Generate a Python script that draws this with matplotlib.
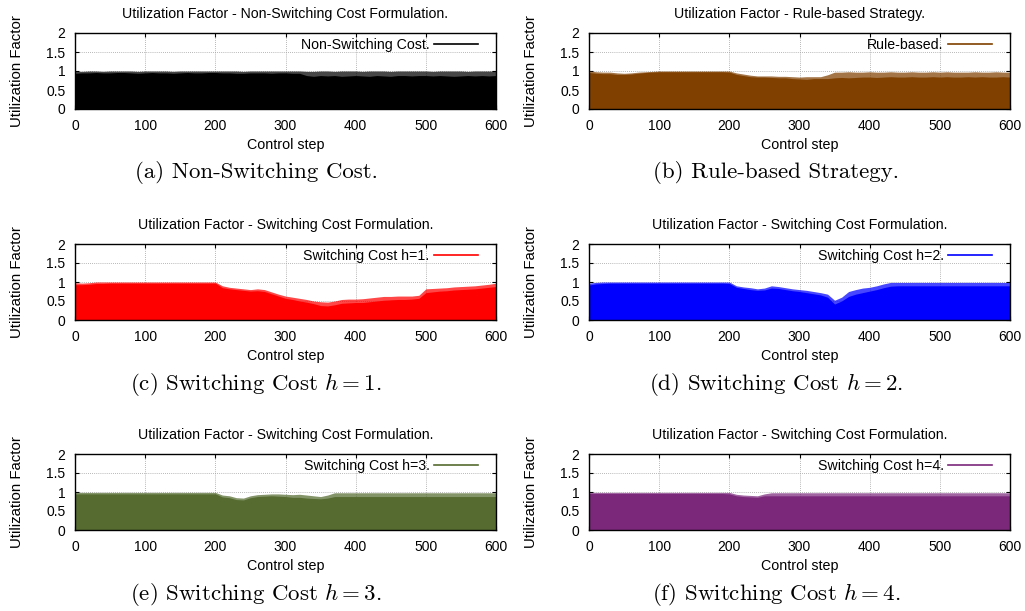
import numpy as np
import matplotlib
matplotlib.use('Agg')
from matplotlib import pyplot as plt
from matplotlib.lines import Line2D

steps = list(range(0, 601, 10))

# upper edge of the impulses (top) and level the impulses rarely drop below (base)
top_a = [0.99, 0.99, 1.0, 1.0, 0.99, 1.0, 1.0, 1.0, 1.0, 0.99,
         1.0, 1.0, 1.0, 1.0, 0.99, 1.0, 1.0, 1.0, 1.0, 1.0,
         1.0, 1.0, 1.0, 1.0, 0.99, 1.0, 1.0, 1.0, 1.0, 1.0,
         1.0, 1.0, 1.0, 0.99, 0.99, 1.0, 1.0, 0.99, 1.0, 1.0,
         1.0, 0.99, 1.0, 1.0, 1.0, 0.99, 1.0, 1.0, 1.0, 1.0,
         1.0, 0.99, 1.0, 1.0, 1.0, 1.0, 0.99, 1.0, 1.0, 1.0,
         1.0]
base_a = [0.94, 0.95, 0.95, 0.96, 0.95, 0.95, 0.96, 0.96, 0.95, 0.94,
          0.95, 0.96, 0.95, 0.95, 0.94, 0.95, 0.96, 0.95, 0.95, 0.96,
          0.96, 0.95, 0.95, 0.94, 0.94, 0.95, 0.95, 0.95, 0.94, 0.95,
          0.95, 0.94, 0.94, 0.88, 0.86, 0.88, 0.87, 0.88, 0.86, 0.87,
          0.88, 0.87, 0.86, 0.88, 0.87, 0.86, 0.88, 0.88, 0.87, 0.88,
          0.88, 0.87, 0.88, 0.87, 0.86, 0.87, 0.88, 0.87, 0.88, 0.87,
          0.88]

top_b = [1.0, 0.98, 0.97, 0.97, 0.95, 0.94, 0.95, 0.97, 0.98, 0.99,
         1.0, 1.0, 1.0, 1.0, 1.0, 1.0, 1.0, 1.0, 1.0, 1.0,
         1.0, 0.95, 0.92, 0.89, 0.87, 0.87, 0.87, 0.86, 0.86, 0.85,
         0.84, 0.85, 0.85, 0.85, 0.9, 0.97, 0.97, 0.98, 0.97, 0.97,
         0.98, 0.97, 0.97, 0.98, 0.97, 0.97, 0.98, 0.97, 0.97, 0.98,
         0.97, 0.98, 0.97, 0.97, 0.97, 0.98, 0.97, 0.97, 0.98, 0.97,
         0.97]
base_b = [0.96, 0.94, 0.93, 0.93, 0.91, 0.91, 0.92, 0.94, 0.96, 0.97,
          0.98, 0.98, 0.98, 0.98, 0.98, 0.98, 0.98, 0.98, 0.98, 0.98,
          0.97, 0.91, 0.88, 0.85, 0.84, 0.84, 0.83, 0.82, 0.82, 0.8,
          0.79, 0.78, 0.8, 0.8, 0.8, 0.82, 0.83, 0.82, 0.83, 0.84,
          0.84, 0.83, 0.84, 0.85, 0.84, 0.84, 0.85, 0.84, 0.84, 0.85,
          0.84, 0.85, 0.84, 0.84, 0.85, 0.84, 0.85, 0.84, 0.84, 0.85,
          0.84]

top_c = [0.98, 0.97, 0.98, 1.0, 1.0, 1.0, 1.0, 1.0, 1.0, 1.0,
         1.0, 1.0, 1.0, 1.0, 1.0, 1.0, 1.0, 1.0, 1.0, 1.0,
         1.0, 0.9, 0.86, 0.84, 0.82, 0.8, 0.82, 0.8, 0.74, 0.68,
         0.63, 0.6, 0.57, 0.54, 0.5, 0.48, 0.47, 0.5, 0.54, 0.55,
         0.55, 0.56, 0.58, 0.6, 0.62, 0.62, 0.63, 0.63, 0.63, 0.65,
         0.82, 0.83, 0.84, 0.85, 0.87, 0.88, 0.89, 0.9, 0.92, 0.94,
         0.97]
base_c = [0.93, 0.93, 0.94, 0.96, 0.96, 0.97, 0.97, 0.97, 0.97, 0.97,
          0.97, 0.97, 0.97, 0.97, 0.97, 0.97, 0.97, 0.97, 0.97, 0.97,
          0.97, 0.85, 0.82, 0.8, 0.78, 0.76, 0.77, 0.75, 0.69, 0.63,
          0.57, 0.54, 0.5, 0.47, 0.43, 0.38, 0.37, 0.4, 0.44, 0.45,
          0.46, 0.46, 0.48, 0.5, 0.52, 0.53, 0.54, 0.54, 0.55, 0.57,
          0.72, 0.74, 0.76, 0.77, 0.79, 0.8, 0.81, 0.82, 0.84, 0.86,
          0.88]

top_d = [0.97, 0.99, 1.0, 1.0, 1.0, 1.0, 1.0, 1.0, 1.0, 1.0,
         1.0, 1.0, 1.0, 1.0, 1.0, 1.0, 1.0, 1.0, 1.0, 1.0,
         1.0, 0.9, 0.87, 0.85, 0.82, 0.84, 0.9, 0.88, 0.85, 0.82,
         0.8, 0.78, 0.75, 0.72, 0.68, 0.52, 0.6, 0.75, 0.8, 0.84,
         0.86, 0.9, 0.95, 0.99, 0.99, 0.99, 0.99, 0.99, 0.99, 0.99,
         0.99, 0.99, 0.99, 0.99, 0.99, 0.99, 0.99, 0.99, 0.99, 0.99,
         0.99]
base_d = [0.92, 0.95, 0.96, 0.97, 0.97, 0.97, 0.97, 0.97, 0.97, 0.97,
          0.97, 0.97, 0.97, 0.97, 0.97, 0.97, 0.97, 0.97, 0.97, 0.97,
          0.96, 0.86, 0.83, 0.8, 0.78, 0.79, 0.84, 0.83, 0.8, 0.77,
          0.75, 0.72, 0.69, 0.66, 0.6, 0.42, 0.5, 0.62, 0.68, 0.72,
          0.76, 0.8, 0.85, 0.89, 0.9, 0.9, 0.9, 0.9, 0.9, 0.9,
          0.9, 0.9, 0.9, 0.9, 0.9, 0.9, 0.9, 0.9, 0.9, 0.9,
          0.9]

top_e = [0.99, 0.99, 0.99, 0.99, 0.99, 0.99, 0.99, 0.99, 0.99, 0.99,
         0.99, 0.99, 0.99, 0.99, 0.99, 0.99, 0.99, 0.99, 0.99, 0.99,
         0.99, 0.92, 0.9, 0.85, 0.84, 0.9, 0.93, 0.94, 0.95, 0.95,
         0.94, 0.93, 0.94, 0.92, 0.9, 0.88, 0.92, 0.98, 0.98, 0.98,
         0.98, 0.98, 0.98, 0.98, 0.98, 0.98, 0.98, 0.98, 0.98, 0.98,
         0.98, 0.98, 0.98, 0.98, 0.98, 0.98, 0.98, 0.98, 0.98, 0.98,
         0.98]
base_e = [0.95, 0.95, 0.95, 0.95, 0.95, 0.95, 0.95, 0.95, 0.95, 0.95,
          0.95, 0.95, 0.95, 0.95, 0.95, 0.95, 0.95, 0.95, 0.95, 0.95,
          0.95, 0.87, 0.85, 0.8, 0.79, 0.85, 0.88, 0.89, 0.9, 0.89,
          0.88, 0.86, 0.86, 0.84, 0.83, 0.82, 0.84, 0.88, 0.88, 0.88,
          0.88, 0.88, 0.88, 0.88, 0.88, 0.88, 0.88, 0.88, 0.88, 0.88,
          0.88, 0.88, 0.88, 0.88, 0.88, 0.88, 0.88, 0.88, 0.88, 0.88,
          0.88]

top_f = [0.99, 0.99, 0.99, 0.99, 0.99, 0.99, 0.99, 0.99, 0.99, 0.99,
         0.99, 0.99, 0.99, 0.99, 0.99, 0.99, 0.99, 0.99, 0.99, 0.99,
         0.99, 0.94, 0.92, 0.91, 0.9, 0.95, 0.98, 0.98, 0.98, 0.98,
         0.98, 0.98, 0.98, 0.98, 0.98, 0.98, 0.98, 0.98, 0.98, 0.98,
         0.98, 0.98, 0.98, 0.98, 0.98, 0.98, 0.98, 0.98, 0.98, 0.98,
         0.98, 0.98, 0.98, 0.98, 0.98, 0.98, 0.98, 0.98, 0.98, 0.98,
         0.98]
base_f = [0.96, 0.96, 0.96, 0.96, 0.96, 0.96, 0.96, 0.96, 0.96, 0.96,
          0.96, 0.96, 0.96, 0.96, 0.96, 0.96, 0.96, 0.96, 0.96, 0.96,
          0.95, 0.9, 0.88, 0.87, 0.86, 0.9, 0.9, 0.9, 0.9, 0.9,
          0.9, 0.9, 0.9, 0.9, 0.9, 0.9, 0.9, 0.9, 0.9, 0.9,
          0.9, 0.9, 0.9, 0.9, 0.9, 0.9, 0.9, 0.9, 0.9, 0.9,
          0.9, 0.9, 0.9, 0.9, 0.9, 0.9, 0.9, 0.9, 0.9, 0.9,
          0.9]

titles = ["Utilization Factor - Non-Switching Cost Formulation.",
          "Utilization Factor - Rule-based Strategy.",
          "Utilization Factor - Switching Cost Formulation.",
          "Utilization Factor - Switching Cost Formulation.",
          "Utilization Factor - Switching Cost Formulation.",
          "Utilization Factor - Switching Cost Formulation."]
legend_labels = ["Non-Switching Cost.", "Rule-based.", "Switching Cost h=1.",
                 "Switching Cost h=2.", "Switching Cost h=3.", "Switching Cost h=4."]
captions = ["(a) Non-Switching Cost.", "(b) Rule-based Strategy.",
            "(c) Switching Cost $h=1$.", "(d) Switching Cost $h=2$.",
            "(e) Switching Cost $h=3$.", "(f) Switching Cost $h=4$."]
colors = ['#000000', '#804000', '#ff0000', '#0000ff', '#556b2f', '#7b287b']
tops = [top_a, top_b, top_c, top_d, top_e, top_f]
bases = [base_a, base_b, base_c, base_d, base_e, base_f]

plt.rcParams['font.family'] = 'Liberation Sans'
plt.rcParams['mathtext.fontset'] = 'cm'

W, H = 1025, 611
fig = plt.figure(figsize=(W / 100, H / 100), dpi=100)

# pixel boxes of the panels (left, top of axes) - two columns, three rows
lefts = [75, 589]
tops_px = [33, 244, 454]
ax_w, ax_h = 421, 76


def draw_panel(ax, x, top, base, color, title, label):
    # band where the impulses jitter, then the solid body below it
    ax.fill_between(x, 0, top, color=color, alpha=0.72, lw=0, zorder=2)
    ax.fill_between(x, 0, base, color=color, lw=0, zorder=3)

    ax.set_xlim(0, 600)
    ax.set_ylim(0, 2)
    ax.set_xticks(range(0, 601, 100))
    ax.set_yticks([0, 0.5, 1, 1.5, 2])
    ax.set_yticklabels(['0', '0.5', '1', '1.5', '2'])
    ax.tick_params(direction='in', top=True, right=True, length=3,
                   labelsize=10, pad=7, width=0.8)
    ax.grid(True, color='#a0a0a0', linestyle=(0, (1, 1.5)), lw=0.6, zorder=0)
    ax.set_axisbelow(True)
    for sp in ax.spines.values():
        sp.set_linewidth(1.0)
        sp.set_zorder(5)

    ax.set_title(title, fontsize=10.2, pad=10.5)
    ax.set_xlabel("Control step", fontsize=10.3, labelpad=4)
    ax.set_ylabel("Utilization Factor", fontsize=10.8)
    ax.yaxis.set_label_coords(-(75 - 24) / ax_w, 0.5)

    handle = Line2D([0], [0], color=color, lw=1.2)
    ax.legend([handle], [label], loc='center right', bbox_to_anchor=(0.957, 0.84),
              frameon=False, markerfirst=False, fontsize=10.2, handlelength=3.1,
              handletextpad=0.3, borderpad=0, borderaxespad=0)


for i in range(6):
    row, col = i // 2, i % 2
    l = lefts[col] / W
    b = 1 - (tops_px[row] + ax_h) / H
    ax = fig.add_axes([l, b, ax_w / W, ax_h / H])
    draw_panel(ax, steps, tops[i], bases[i], colors[i], titles[i], legend_labels[i])

    # caption under each sub-figure, centred on its half of the page
    cx = (256 if col == 0 else 776) / W
    cy = 1 - (tops_px[row] + ax_h + 64) / H
    fig.text(cx, cy, captions[i], ha='center', va='center', fontsize=16.5,
             family='cmr10')

fig.savefig('out.png', dpi=100)
